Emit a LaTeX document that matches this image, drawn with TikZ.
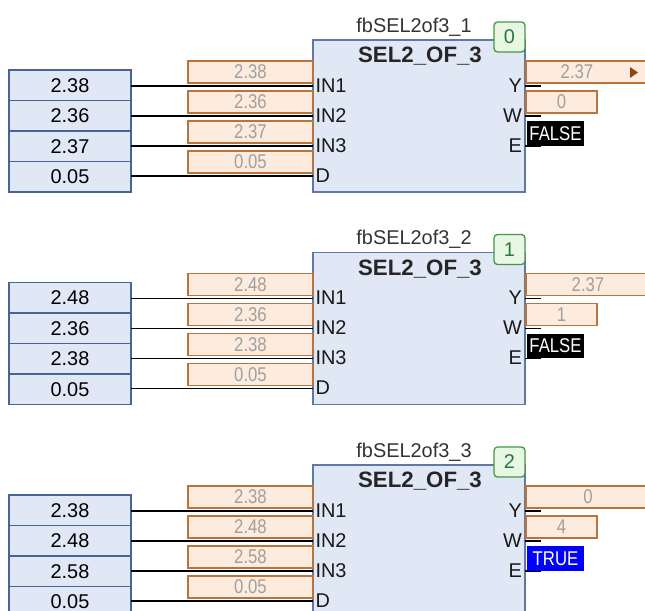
\documentclass[tikz,border=0pt]{standalone}
\usepackage{fontspec}
\setmainfont{Liberation Sans}

\definecolor{infill}{RGB}{224,232,246}
\definecolor{inborder}{RGB}{72,100,150}
\definecolor{fbfill}{RGB}{225,232,245}
\definecolor{fbborder}{RGB}{95,120,165}
\definecolor{watchfill}{RGB}{253,235,221}
\definecolor{watchborder}{RGB}{185,115,60}
\definecolor{watchtext}{RGB}{160,160,160}
\definecolor{badgefill}{RGB}{232,246,228}
\definecolor{badgeborder}{RGB}{70,150,70}
\definecolor{badgetext}{RGB}{40,120,60}
\definecolor{marker}{RGB}{140,70,20}
\definecolor{truebg}{RGB}{0,0,255}

\newcommand{\pxu}{0.03cm}
\newcommand{\fbfont}{\fontsize{17}{20}\selectfont}
\newcommand{\narrowtext}[1]{\scalebox{0.84}[1]{#1}}

\tikzset{
  every node/.style={font=\fbfont, inner sep=0pt, outer sep=0pt},
  invar/.style={draw=inborder, fill=infill, line width=1.1pt, minimum width=122*\pxu, minimum height=30.5*\pxu, anchor=north west},
  watch/.style={draw=watchborder, fill=watchfill, line width=1.2pt, minimum height=22*\pxu, anchor=north west},
  watchval/.style={text=watchtext},
  fbbox/.style={draw=fbborder, fill=fbfill, line width=1.2pt, minimum width=212*\pxu, minimum height=152*\pxu, anchor=north west},
  badge/.style={draw=badgeborder, fill=badgefill, text=badgetext, line width=1.1pt, rounded corners=3pt, minimum width=31*\pxu, minimum height=30*\pxu, anchor=north west},
  boolbox/.style={text=white, minimum width=57*\pxu, minimum height=24.5*\pxu, anchor=north west},
  pinlabel/.style={text=black!90},
  wire/.style={draw=black, line width=1.2pt}
}

\begin{document}
\begin{tikzpicture}[x=0.03cm, y=-0.03cm]
  \path[use as bounding box, clip] (0,0) rectangle (645,610);

  \foreach \k/\va/\vb/\vc/\qy/\qx/\qw/\qe/\qc in {0/2.38/2.36/2.37/2.37/577/0/FALSE/black,
      1/2.48/2.36/2.38/2.37/588/1/FALSE/black, 2/2.38/2.48/2.58/0/588/4/TRUE/truebg}{
    \pgfmathtruncatemacro{\fbn}{\k+1}
    \begin{scope}[shift={(0,\k*212.5)}]
      \node[fbbox] (fb\k) at (313,40) {};
      \node[badge] (badge\k) at (494,22) {\k};
      \node[anchor=base, text=black!80] (name\k) at (414,32) {fbSEL2of3\_\fbn};
      \node[anchor=base, font=\fontsize{19}{22}\selectfont\bfseries, text=black!85] (type\k) at (420,62.5) {SEL2\_OF\_3};

      % inputs
      \foreach \row/\val/\pin in {1/\va/IN1, 2/\vb/IN2, 3/\vc/IN3, 4/0.05/D}{
        \pgfmathsetmacro{\wy}{86+(\row-1)*30}
        \pgfmathsetmacro{\ty}{70+(\row-1)*30.5}
        \node[invar] (v\k-\row) at (9,\ty) {\val};
        \coordinate (in\k-\row) at (313,\wy);
        \draw[wire] (v\k-\row.east |- in\k-\row) -- (in\k-\row);
        \node[watch, minimum width=125*\pxu] (w\k-\row) at (188,\wy-25) {};
        \node[watchval] (wv\k-\row) at (w\k-\row.center) {\narrowtext{\val}};
        \node[pinlabel, anchor=west] (l\k-\row) at (315.5,\wy-0.5) {\pin};
      }

      % outputs
      \foreach \row/\pin in {1/Y, 2/W, 3/E}{
        \pgfmathsetmacro{\wy}{86+(\row-1)*30}
        \coordinate (out\k-\row) at (525,\wy);
        \draw[wire] (out\k-\row) -- ++(16,0);
        \node[pinlabel, anchor=east] (r\k-\row) at (522,\wy-0.5) {\pin};
      }
      \node[watch, minimum width=124*\pxu] (wy\k) at (526,61) {};
      \node[watchval] (wyv\k) at (\qx,72) {\narrowtext{\qy}};
      \node[watch, minimum width=71*\pxu] (ww\k) at (526,91) {};
      \node[watchval] (wwv\k) at (ww\k.center) {\narrowtext{\qw}};
      \node[boolbox, fill=\qc] (e\k) at (527,121) {\narrowtext{\qe}};
    \end{scope}
  }

  \fill[marker] (630,67) -- (638,72.5) -- (630,78) -- cycle;
\end{tikzpicture}
\end{document}
